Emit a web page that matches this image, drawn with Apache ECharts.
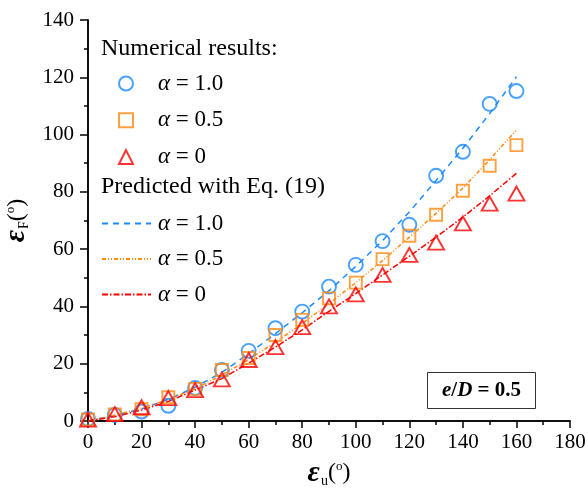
<!DOCTYPE html>
<html>
<head>
<meta charset="utf-8">
<script src="https://cdn.jsdelivr.net/npm/echarts@6/dist/echarts.min.js"></script>
<style>
  html, body { margin: 0; padding: 0; background: #fff; }
  #main { width: 588px; height: 498px; }
</style>
</head>
<body>
<div id="main"></div>
<script>
// eps_u (deg)
var xVals = [0, 10, 20, 30, 40, 50, 60, 70, 80, 90, 100, 110, 120, 130, 140, 150, 160];

// numerical results
var numA1  = [0.7, 2.1, 3.3, 5.3, 11.5, 17.8, 24.5, 32.4, 38.2, 46.9, 54.5, 62.8, 68.5, 85.6, 94.0, 110.7, 115.2];
var numA05 = [0.5, 2.3, 4.1, 8.3, 11.2, 17.8, 22.0, 30.0, 35.3, 42.8, 48.3, 56.5, 64.7, 72.0, 80.4, 89.1, 96.3];
var numA0  = [0.5, 2.4, 4.8, 8.0, 10.8, 14.5, 21.3, 25.8, 32.8, 40.0, 44.2, 51.0, 58.0, 62.3, 69.0, 75.9, 79.4];

// predicted with Eq. (19)
var predA1  = [0, 2.0, 4.2, 7.5, 11.8, 17.0, 23.5, 30.5, 37.8, 45.5, 54.0, 63.0, 73.0, 84.0, 95.2, 107.3, 120.2];
var predA05 = [0, 2.0, 4.5, 7.5, 11.3, 16.0, 21.5, 27.5, 34.0, 41.0, 48.3, 56.0, 64.2, 72.5, 81.3, 91.2, 101.6];
var predA0  = [0, 1.5, 3.8, 6.8, 10.8, 14.8, 20.2, 25.8, 31.8, 38.3, 44.5, 51.0, 57.5, 64.2, 71.2, 78.6, 86.5];

var alphaLabels = { n1: '1.0', n05: '0.5', n0: '0', p1: '1.0', p05: '0.5', p0: '0' };

var BLUE = '#1A8AFF', ORANGE = '#FF8812', RED = '#FF0000';
var FONT = "'Liberation Serif', 'DejaVu Serif', serif";

function pairs(ys) {
  return xVals.map(function (x, i) { return [x, ys[i]]; });
}

function numSeries(name, ys, symbol, size, color) {
  return {
    name: name, type: 'scatter', data: pairs(ys),
    symbol: symbol, symbolSize: size, z: 3,
    itemStyle: { color: 'rgba(0,0,0,0)', borderColor: color, borderWidth: 1.9 }
  };
}

function predSeries(name, ys, dash, color) {
  return {
    name: name, type: 'line', data: pairs(ys),
    showSymbol: false, symbol: 'none', z: 2,
    lineStyle: { color: color, width: 1.5, type: dash },
    itemStyle: { color: color }
  };
}

var axisLab = { fontFamily: FONT, fontSize: 21, color: '#000' };
var axLine = { show: true, lineStyle: { color: '#000', width: 1.5 } };
var nameRich = {
  e: { fontFamily: FONT, fontSize: 30, fontStyle: 'italic', fontWeight: 'bold', color: '#000' },
  s: { fontFamily: FONT, fontSize: 14, color: '#000', padding: [16, 0, 0, 1] },
  p: { fontFamily: FONT, fontSize: 24, color: '#000' },
  o: { fontFamily: FONT, fontSize: 13, color: '#000', padding: [0, 0, 12, 0] }
};

var myChart = echarts.init(document.getElementById('main'));

var option = {
  animation: false,
  backgroundColor: '#fff',
  grid: { left: 88, right: 18, top: 20, bottom: 77, outerBoundsMode: 'none', containLabel: false },
  title: [
    { text: 'Numerical results:', left: 101, top: 37, padding: 0,
      textStyle: { fontFamily: FONT, fontSize: 24, fontWeight: 'normal', color: '#000' } },
    { text: 'Predicted with Eq. (19)', left: 101, top: 175, padding: 0,
      textStyle: { fontFamily: FONT, fontSize: 24, fontWeight: 'normal', color: '#000' } },
    { text: '{i|e}{b|/}{i|D}{b| = 0.5}', left: 427, top: 372,
      padding: [8, 15, 8, 15], borderWidth: 1, borderColor: '#333',
      textStyle: {
        rich: {
          i: { fontFamily: FONT, fontSize: 21, fontStyle: 'italic', fontWeight: 'bold', color: '#000' },
          b: { fontFamily: FONT, fontSize: 21, fontWeight: 'bold', color: '#000' }
        }
      } }
  ],
  legend: [
    { data: ['n1', 'n05', 'n0'], orient: 'vertical', left: 118, top: 72, padding: 0,
      itemWidth: 14, itemHeight: 14, itemGap: 13.8, selectedMode: false,
      formatter: function (n) { return '{a|α}{b| = ' + alphaLabels[n] + '}'; },
      textStyle: {
        fontFamily: FONT, fontSize: 23, color: '#000',
        rich: {
          a: { fontFamily: FONT, fontSize: 23, fontStyle: 'italic', color: '#000', padding: [0, 0, 0, 20] },
          b: { fontFamily: FONT, fontSize: 23, color: '#000' }
        }
      } },
    { data: [{ name: 'p1', itemStyle: { opacity: 0 } },
             { name: 'p05', itemStyle: { opacity: 0 } },
             { name: 'p0', itemStyle: { opacity: 0 } }],
      orient: 'vertical', left: 101, top: 212, padding: 0,
      itemWidth: 49, itemHeight: 14, itemGap: 12.5, selectedMode: false,
      formatter: function (n) { return '{a|α}{b| = ' + alphaLabels[n] + '}'; },
      textStyle: {
        fontFamily: FONT, fontSize: 23, color: '#000',
        rich: {
          a: { fontFamily: FONT, fontSize: 23, fontStyle: 'italic', color: '#000', padding: [0, 0, 0, 2] },
          b: { fontFamily: FONT, fontSize: 23, color: '#000' }
        }
      } }
  ],
  xAxis: [
    { type: 'value', position: 'bottom', min: 0, max: 180, interval: 20,
      name: '{e|ε}{s|u}{p|(}{o|o}{p|)}', nameLocation: 'middle', nameGap: 36,
      nameTextStyle: { rich: nameRich },
      axisLine: axLine,
      axisTick: { show: true, inside: false, length: 7, lineStyle: { color: '#000', width: 1.5 } },
      minorTick: { show: true, splitNumber: 2, length: 4, lineStyle: { color: '#000', width: 1.5 } },
      splitLine: { show: false },
      axisLabel: Object.assign({ margin: 11 }, axisLab) },
    { type: 'value', position: 'top', min: 0, max: 180, interval: 20,
      axisLine: axLine,
      axisTick: { show: true, inside: true, length: 7, lineStyle: { color: '#000', width: 1.5 } },
      minorTick: { show: true, splitNumber: 2, length: 4, lineStyle: { color: '#000', width: 1.5 } },
      splitLine: { show: false }, axisLabel: { show: false } }
  ],
  yAxis: [
    { type: 'value', position: 'left', min: 0, max: 140, interval: 20,
      name: '{e|ε}{s|F}{p|(}{o|o}{p|)}', nameLocation: 'middle', nameGap: 45, nameRotate: 90,
      nameTextStyle: { rich: nameRich },
      axisLine: axLine,
      axisTick: { show: true, inside: false, length: 8, lineStyle: { color: '#000', width: 1.5 } },
      minorTick: { show: true, splitNumber: 2, length: 4, lineStyle: { color: '#000', width: 1.5 } },
      splitLine: { show: false },
      axisLabel: Object.assign({ margin: 14 }, axisLab) },
    { type: 'value', position: 'right', min: 0, max: 140, interval: 20,
      axisLine: axLine,
      axisTick: { show: true, inside: true, length: 8, lineStyle: { color: '#000', width: 1.5 } },
      minorTick: { show: true, splitNumber: 2, length: 4, lineStyle: { color: '#000', width: 1.5 } },
      splitLine: { show: false }, axisLabel: { show: false } }
  ],
  series: [
    predSeries('p1', predA1, [6, 5], BLUE),
    predSeries('p05', predA05, [4, 2, 1, 2, 1, 2], ORANGE),
    predSeries('p0', predA0, [6, 2, 1.5, 2], RED),
    numSeries('n1', numA1, 'circle', 14, BLUE),
    numSeries('n05', numA05, 'rect', 12, ORANGE),
    numSeries('n0', numA0, 'triangle', [16, 14], RED)
  ]
};

myChart.setOption(option);
</script>
</body>
</html>
